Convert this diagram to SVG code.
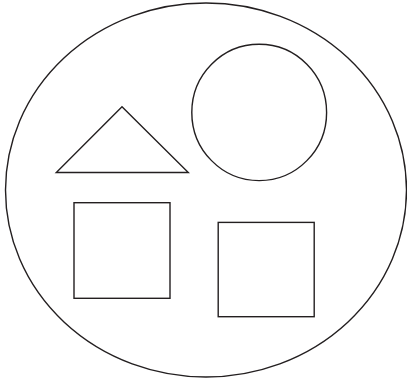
<svg xmlns="http://www.w3.org/2000/svg" width="407" height="382" viewBox="0 0 407 382">
<style>
.s{fill:none;stroke:#231f20;stroke-width:1.4;stroke-linejoin:miter}
</style>
<rect width="407" height="382" fill="#fff"/>
<g id="outer"><ellipse class="s" cx="206" cy="190" rx="200.5" ry="187"/></g>
<g id="circle"><ellipse class="s" cx="259.2" cy="112.4" rx="67.4" ry="68.2"/></g>
<g id="triangle"><polygon class="s" points="122,106.7 56.3,172.5 188.3,172.5"/></g>
<g id="square1"><rect class="s" x="74" y="202.7" width="96" height="95.6"/></g>
<g id="square2"><rect class="s" x="218.2" y="222.4" width="96" height="94.3"/></g>
</svg>
